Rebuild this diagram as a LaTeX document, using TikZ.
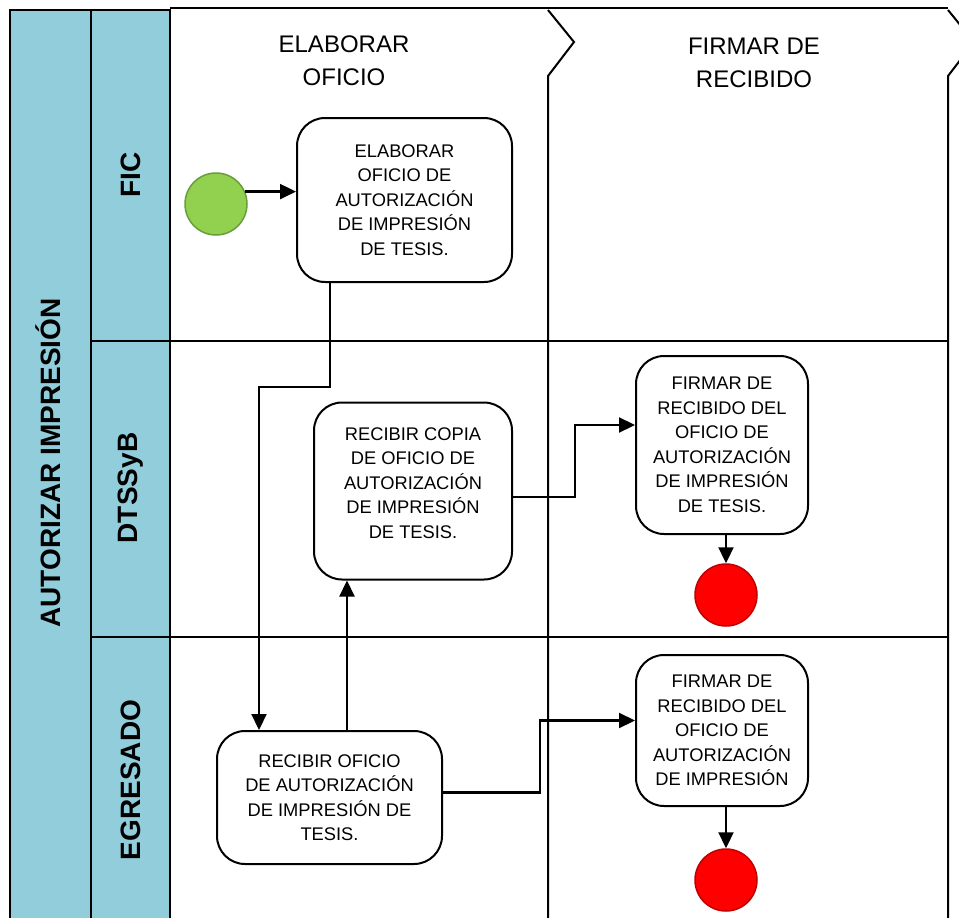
\documentclass[tikz,border=0pt]{standalone}
\usepackage{fontspec}
\setmainfont{Liberation Sans}
\usepackage{tikz}
\usetikzlibrary{arrows.meta,positioning}
\definecolor{lanebg}{RGB}{146,205,220}
\definecolor{startfill}{RGB}{146,208,80}
\definecolor{startline}{RGB}{106,158,58}
\definecolor{endfill}{RGB}{255,0,0}
\definecolor{endline}{RGB}{192,0,0}

\begin{document}
\begin{tikzpicture}[x=1pt,y=-1pt,
  act/.style={draw,rounded corners=28pt,line width=2pt,fill=white,inner sep=0pt,align=center,font=\fontsize{18.3}{24.5}\selectfont},
  ev/.style={circle,draw=#1line,fill=#1fill,line width=1.5pt,minimum size=62pt,inner sep=0pt},
  flow/.style={-{Triangle[length=16pt,width=15pt]},line width=2.2pt},
  lane/.style={font=\fontsize{28}{34}\selectfont\bfseries,rotate=90},
  phase/.style={font=\fontsize{24}{33}\selectfont,align=center},
  sep/.style={line width=2pt}]
\useasboundingbox (0,0) rectangle (959,918);
\clip (0,0) rectangle (959,918);
\fill[white] (0,0) rectangle (959,918);
\draw[sep,fill=lanebg] (10,10) rectangle (91,925);
\draw[sep,fill=lanebg] (91,10) rectangle (170,925);
\draw[sep] (170,8) -- (948,8);
\draw[sep] (548,10) -- (574,42) -- (548,76) -- (548,925);
\draw[sep] (948,10) -- (974,42) -- (948,76) -- (948,925);
\draw[sep] (91,341) -- (948,341);
\draw[sep] (91,637) -- (948,637);
\node[lane] (pool) at (48,463) {AUTORIZAR IMPRESIÓN};
\node[lane] (fic) at (131,175) {FIC};
\node[lane] (dts) at (131,488) {DTSSyB};
\node[lane] (egr) at (131,780) {EGRESADO};
\node[phase] (ph1) at (344,61) {ELABORAR\\OFICIO};
\node[phase] (ph2) at (754,63) {FIRMAR DE\\RECIBIDO};
\node[ev=start] (s) at (216,204) {};
\node[act,minimum width=215pt,minimum height=164pt] (b1) at (404.5,200) {ELABORAR\\OFICIO DE\\AUTORIZACIÓN\\DE IMPRESIÓN\\DE TESIS.};
\node[act,minimum width=198pt,minimum height=177pt] (b2) at (413,491) {RECIBIR COPIA\\DE OFICIO DE\\AUTORIZACIÓN\\DE IMPRESIÓN\\DE TESIS.\\[-8.5pt]};
\node[act,minimum width=172pt,minimum height=178pt] (b3) at (722,445) {FIRMAR DE\\RECIBIDO DEL\\OFICIO DE\\AUTORIZACIÓN\\DE IMPRESIÓN\\DE TESIS.};
\node[ev=end] (e1) at (726,595) {};
\node[act,minimum width=225pt,minimum height=133pt] (b4) at (329.5,797.5) {RECIBIR OFICIO\\DE AUTORIZACIÓN\\DE IMPRESIÓN DE\\TESIS.};
\node[act,minimum width=172pt,minimum height=151pt] (b5) at (722,730.5) {FIRMAR DE\\RECIBIDO DEL\\OFICIO DE\\AUTORIZACIÓN\\DE IMPRESIÓN};
\node[ev=end] (e2) at (726,880) {};
\draw[flow] (s.23) -- (s.23 -| b1.west);
\draw[flow] ([xshift=34pt]b1.south west) -- ++(0,104) -| ([xshift=43pt]b4.north west);
\draw[flow] ([xshift=131pt]b4.north west) -- ([xshift=131pt]b4.north west |- b2.south);
\draw[flow] ([yshift=-6pt]b2.east) -- ++(62,0) |- ([yshift=20pt]b3.west);
\draw[flow] ([yshift=5pt]b4.east) -- ++(97,0) |- ([yshift=10pt]b5.west);
\draw[flow] (b3.south -| e1) -- (e1);
\draw[flow] (b5.south -| e2) -- (e2);
\end{tikzpicture}
\end{document}
